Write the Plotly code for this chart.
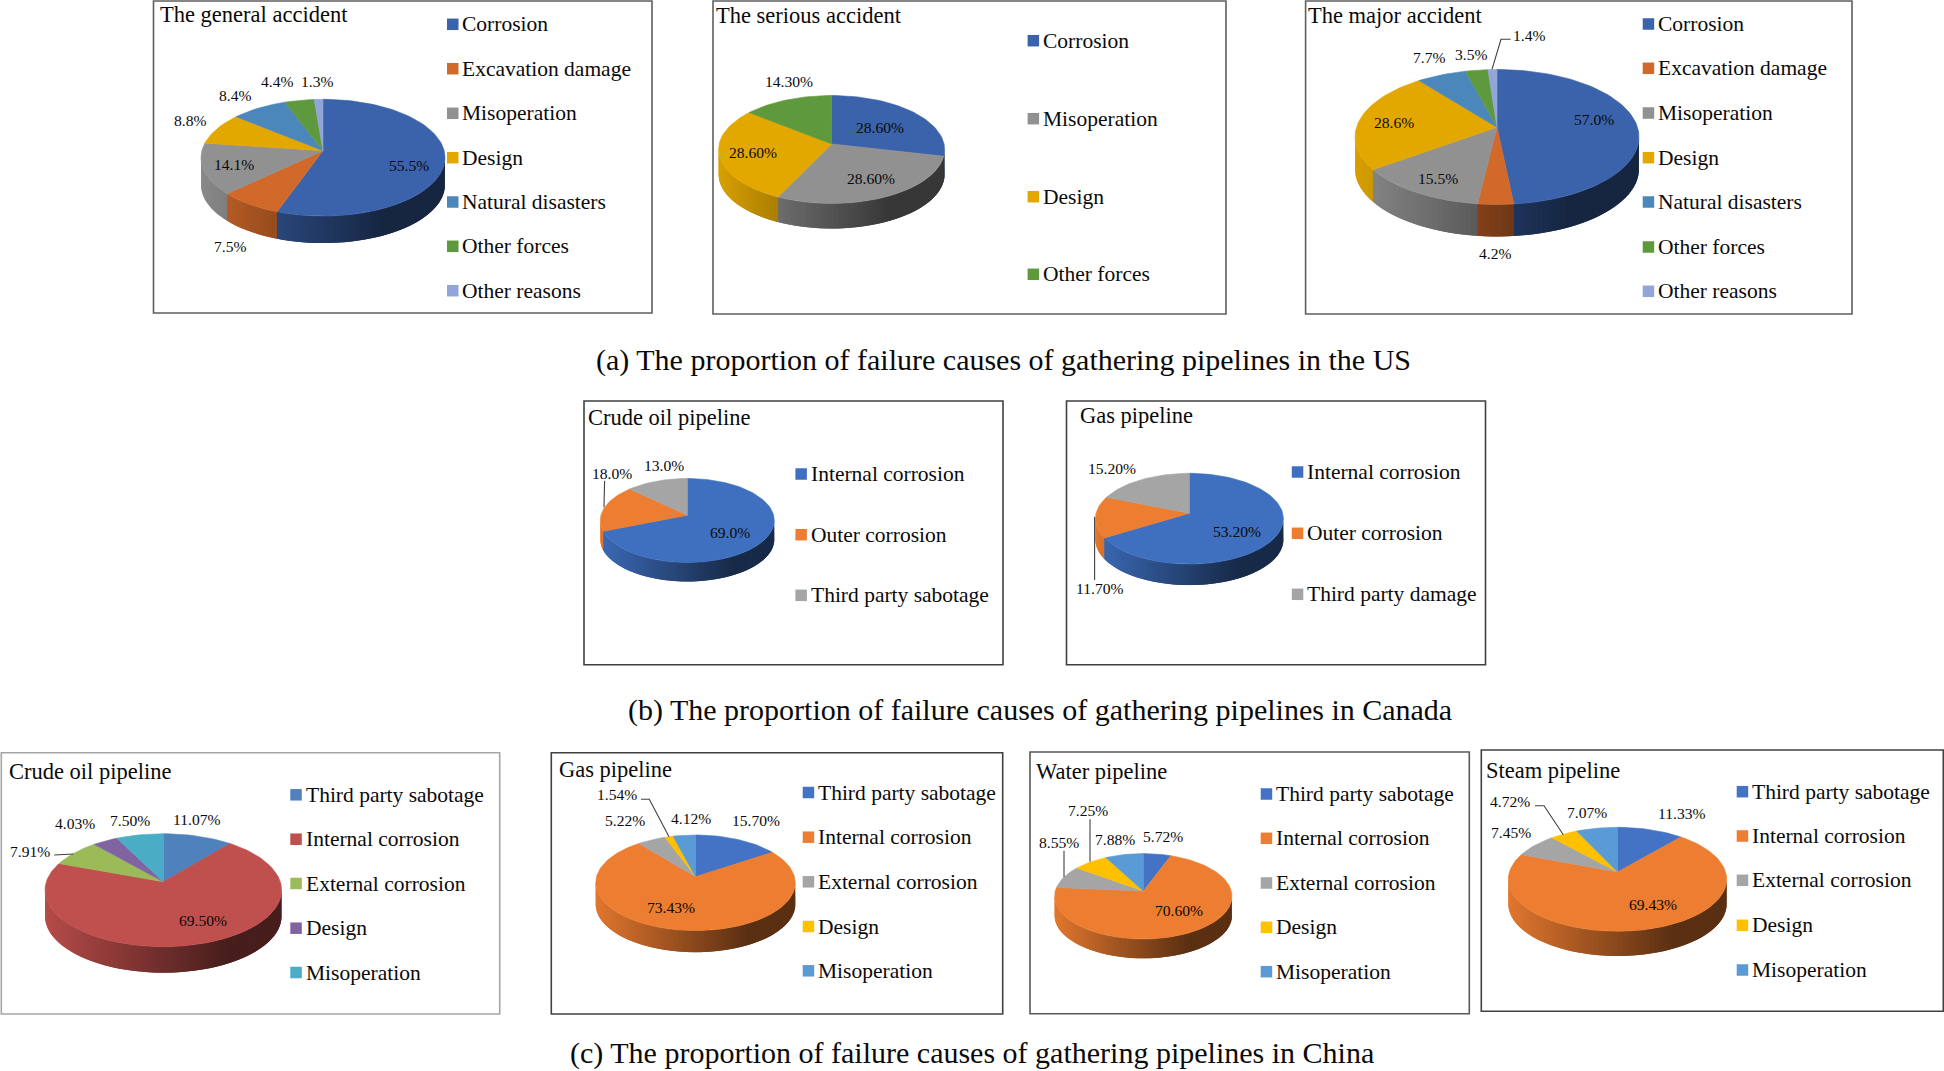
import math
import plotly.graph_objects as go

# ---------- data ----------
causes_us = ["Corrosion", "Excavation damage", "Misoperation", "Design",
             "Natural disasters", "Other forces", "Other reasons"]
causes_us_serious = ["Corrosion", "Misoperation", "Design", "Other forces"]
causes_ca_oil = ["Internal corrosion", "Outer corrosion", "Third party sabotage"]
causes_ca_gas = ["Internal corrosion", "Outer corrosion", "Third party damage"]
causes_cn = ["Third party sabotage", "Internal corrosion", "External corrosion",
             "Design", "Misoperation"]

us_general = [55.5, 7.5, 14.1, 8.8, 8.4, 4.4, 1.3]
us_serious = [28.60, 28.60, 28.60, 14.30]
us_major = [57.0, 4.2, 15.5, 28.6, 7.7, 3.5, 1.4]
ca_oil = [69.0, 18.0, 13.0]
ca_gas = [53.20, 11.70, 15.20]
cn_oil = [11.07, 69.50, 7.91, 4.03, 7.50]
cn_gas = [15.70, 73.43, 5.22, 1.54, 4.12]
cn_water = [5.72, 70.60, 8.55, 7.25, 7.88]
cn_steam = [11.33, 69.43, 7.45, 4.72, 7.07]

captions = ["(a) The proportion of failure causes of gathering pipelines in the US",
            "(b) The proportion of failure causes of gathering pipelines in Canada",
            "(c) The proportion of failure causes of gathering pipelines in China"]

# ---------- styles ----------
US = ["#3A63AB", "#D1692A", "#919191", "#E3A800", "#4C87BC", "#5F993E", "#92A5D9"]
US_S = ["#3A63AB", "#919191", "#E3A800", "#5F993E"]
CA = ["#3F70C0", "#ED7D31", "#A5A5A5"]
CN07 = ["#4F81BD", "#C0504D", "#9BBB59", "#8064A2", "#4BACC6"]
CN13 = ["#4472C4", "#ED7D31", "#A5A5A5", "#FFC000", "#5B9BD5"]
FONT = "Liberation Serif, Times New Roman, serif"

# ---------- panel layout (pixels in the 1944x1071 page) ----------
panels = [
    dict(title="The general accident", vals=us_general, dec=1, names=causes_us, cols=US,
         box=(153.5, 1, 652, 313), box_col="#5f5f5f", title_xy=(158, 14.7),
         pie=(323, 157.7, 122, 58.4, 150.7, 27),
         lab=[(409.3, 165.3), (230, 246), (234.3, 164), (190, 120.3), (235, 95), (276.7, 81.7), (317.3, 81.7)],
         leg_x=447, leg_y=[24.3, 68.7, 113.3, 157.7, 202, 246.3, 290.7], lead=[]),
    dict(title="The serious accident", vals=us_serious, dec=2, names=causes_us_serious, cols=US_S,
         box=(713, 1, 1226, 314), box_col="#5f5f5f", title_xy=(714, 15.7),
         pie=(831.6, 149.5, 113, 54, 144, 25),
         lab=[(880, 127), (870.7, 178.7), (753.4, 152.7), (789, 81.7)],
         leg_x=1027.6, leg_y=[40.7, 118.7, 196.7, 274.3], lead=[]),
    dict(title="The major accident", vals=us_major, dec=1, names=causes_us, cols=US,
         box=(1305.6, 1, 1852, 314), box_col="#5f5f5f", title_xy=(1305.5, 15.7),
         pie=(1497, 137, 142, 67.5, 127.3, 32),
         lab=[(1593.6, 119.3), (1494.7, 253), (1438, 178.7), (1394, 122), (1429, 57.7), (1470.7, 54.7), (1529, 35.7)],
         leg_x=1642.7, leg_y=[24, 68.3, 113, 157.7, 202, 247, 291.3],
         lead=[[(1492, 69.3), (1501, 39.3), (1510.7, 39.3)]]),
    dict(title="Crude oil pipeline", vals=ca_oil, dec=1, names=causes_ca_oil, cols=CA,
         box=(584, 401, 1003, 664.7), box_col="#404040", title_xy=(586, 417.3),
         pie=(687.3, 520.5, 87, 42, 515.2, 19),
         lab=[(729.6, 532.3), (612.3, 473), (664, 465)],
         leg_x=795.4, leg_y=[474, 534.7, 595.3],
         lead=[[(604.6, 480.7), (604, 507.3)]]),
    dict(title="Gas pipeline", vals=ca_gas, dec=2, names=causes_ca_gas, cols=CA,
         box=(1066.5, 401, 1485.5, 664.7), box_col="#404040", title_xy=(1077.5, 415.5),
         pie=(1189.4, 518.7, 94, 45.4, 513.3, 21),
         lab=[(1237.3, 531), (1100, 588.7), (1112, 468)],
         leg_x=1291.8, leg_y=[472, 533.3, 594.3],
         lead=[[(1094.6, 516.7), (1094.6, 580)]]),
    dict(title="Crude oil pipeline", vals=cn_oil, dec=2, names=causes_cn, cols=CN07,
         box=(1.3, 752.7, 499.7, 1014), box_col="#a6a6a6", title_xy=(7, 771.3),
         pie=(163.3, 890.2, 118.3, 56.5, 881.7, 26),
         lab=[(196.7, 819), (202.7, 920), (30, 851), (75, 823.3), (130, 820)],
         leg_x=290.3, leg_y=[794.8, 839.2, 883.5, 928.2, 972.5],
         lead=[[(54.3, 855), (73.3, 854)]]),
    dict(title="Gas pipeline", vals=cn_gas, dec=2, names=causes_cn, cols=CN13,
         box=(551.3, 752.7, 1002.7, 1014), box_col="#404040", title_xy=(556.5, 769.3),
         pie=(695.5, 882.8, 99.8, 47.8, 876.7, 21.6),
         lab=[(756, 820.3), (670.7, 907.7), (624.7, 820.3), (617, 794.7), (690.7, 818.7)],
         leg_x=802.7, leg_y=[792.5, 837.2, 881.8, 926.5, 970.8],
         lead=[[(641, 799.3), (649.3, 799.3), (669, 836.7)]]),
    dict(title="Water pipeline", vals=cn_water, dec=2, names=causes_cn, cols=CN13,
         box=(1030, 752, 1469.3, 1013.7), box_col="#595959", title_xy=(1033.5, 771.3),
         pie=(1143.3, 896.3, 88.7, 42.7, 891, 19.3),
         lab=[(1163.3, 836.7), (1178.7, 910), (1058.7, 842.3), (1087.7, 810.3), (1115, 839)],
         leg_x=1260.7, leg_y=[794, 838.3, 883, 927.3, 971.7],
         lead=[[(1064, 850.7), (1064, 877.3)], [(1090, 819.3), (1090, 861.7)]]),
    dict(title="Steam pipeline", vals=cn_steam, dec=2, names=causes_cn, cols=CN13,
         box=(1481.3, 750, 1943.3, 1011.3), box_col="#404040", title_xy=(1483.5, 770.7),
         pie=(1617.5, 879.3, 109.2, 52, 872, 24.7),
         lab=[(1682, 813), (1652.7, 904.7), (1510.7, 832), (1510.3, 801.7), (1587.3, 812.7)],
         leg_x=1736.7, leg_y=[791.7, 836, 880.3, 925.3, 970],
         lead=[[(1535, 805.7), (1544, 805.7), (1563.3, 834.7)]]),
]
caption_pos = [(1003, 359.5), (1040, 709.5), (972, 1053)]

LEG_SIZE = 11.5
LEG_FS = 21.5
TITLE_FS = 22.5
LAB_FS = 15.6
CAP_FS = 30
DEPTH_STEP = 2.5


def shade(hex_col, f):
    r, g, b = (int(hex_col[i:i + 2], 16) for i in (1, 3, 5))
    return f"rgb({int(r * f)},{int(g * f)},{int(b * f)})"


def rim_angle(theta, e):
    """Perspective: rays leave the apex (0, e) of the unit circle; return rim angle in degrees."""
    dx, dy = math.sin(theta), -math.cos(theta)
    b = e * dy
    t = -b + math.sqrt(b * b - (e * e - 1))
    x, y = dx * t, e + dy * t
    return math.degrees(math.atan2(x, -y)) % 360


fig = go.Figure()


def poly(xs, ys, color, width=0.6):
    fig.add_trace(go.Scatter(x=xs, y=ys, mode="lines", fill="toself", fillcolor=color,
                             line=dict(color=color, width=width), hoverinfo="skip",
                             showlegend=False))


annotations = []


def text(x, y, s, size, anchor="left"):
    annotations.append(dict(x=x, y=y, xref="x", yref="y", text=s, showarrow=False,
                            xanchor=anchor, yanchor="middle", align=anchor,
                            font=dict(family=FONT, size=size, color="#0a0a0a")))


shapes = []
for p in panels:
    x0, y0, x1, y1 = p["box"]
    shapes.append(dict(type="rect", xref="x", yref="y", x0=x0, y0=y0, x1=x1, y1=y1,
                       line=dict(color=p["box_col"], width=1.6), fillcolor="rgba(0,0,0,0)",
                       layer="below"))
    text(p["title_xy"][0], p["title_xy"][1], p["title"], TITLE_FS)

    cx, cy, rx, ry, ay, depth = p["pie"]
    e = (ay - cy) / ry
    total = sum(p["vals"])

    def rim(phi_deg):
        a = math.radians(phi_deg)
        return cx + rx * math.sin(a), cy - ry * math.cos(a)

    # slice limits on the rim
    limits = []
    acc = 0.0
    for v in p["vals"]:
        a0 = rim_angle(2 * math.pi * acc / total, e)
        acc += v
        a1 = rim_angle(2 * math.pi * acc / total, e) if acc < total else 360.0
        if a1 <= a0:
            a1 += 360.0
        limits.append((a0, a1))

    # side wall: thin shaded strips painted in rising angle; each one reaches under
    # the strip painted after it, so no seams show.
    for (a0, a1), col in zip(limits, p["cols"]):
        lo, hi = max(a0, 90.0), min(a1, 270.0)
        if hi <= lo:
            continue
        n = max(1, int(math.ceil((hi - lo) / DEPTH_STEP)))
        step = (hi - lo) / n
        for k in range(n):
            b0 = lo + step * k
            b1 = min(270.0, b0 + 2 * step)
            b_mid = b0 + step / 2
            arc = [rim(b0 + (b1 - b0) * j / 3) for j in range(4)]
            xs = [q[0] for q in arc] + [q[0] for q in reversed(arc)]
            ys = [q[1] for q in arc] + [q[1] + depth for q in reversed(arc)]
            xs.append(xs[0])
            ys.append(ys[0])
            t = (rim(b_mid)[0] - (cx - rx)) / (2 * rx)
            f = max(0.38, 0.95 - 0.75 * t)
            poly(xs, ys, shade(col, f), width=0)

    # top face
    for (a0, a1), col in zip(limits, p["cols"]):
        n = max(2, int((a1 - a0) / 2))
        pts = [rim(a0 + (a1 - a0) * k / n) for k in range(n + 1)]
        poly([cx] + [q[0] for q in pts] + [cx], [ay] + [q[1] for q in pts] + [ay], col)

    # data labels
    for v, (lx, ly) in zip(p["vals"], p["lab"]):
        text(lx, ly, f"{v:.{p['dec']}f}%", LAB_FS, "center")

    # leader lines
    for seg in p["lead"]:
        fig.add_trace(go.Scatter(x=[q[0] for q in seg], y=[q[1] for q in seg], mode="lines",
                                 line=dict(color="#404040", width=1.1), hoverinfo="skip",
                                 showlegend=False))

    # legend
    fig.add_trace(go.Scatter(x=[p["leg_x"] + LEG_SIZE / 2] * len(p["names"]), y=p["leg_y"],
                             mode="markers",
                             marker=dict(symbol="square", size=LEG_SIZE, color=p["cols"],
                                         line=dict(width=0)),
                             hoverinfo="skip", showlegend=False))
    for nm, ly in zip(p["names"], p["leg_y"]):
        text(p["leg_x"] + 13.3, ly, nm, LEG_FS)

for s, (cxp, cyp) in zip(captions, caption_pos):
    text(cxp, cyp, s, CAP_FS, "center")

fig.update_layout(
    width=1944, height=1071, margin=dict(l=0, r=0, t=0, b=0),
    paper_bgcolor="white", plot_bgcolor="white", showlegend=False,
    xaxis=dict(range=[0, 1944], visible=False, fixedrange=True),
    yaxis=dict(range=[1071, 0], visible=False, fixedrange=True),
    shapes=shapes, annotations=annotations,
)
fig.write_html("out.html", config=dict(displayModeBar=False),
               post_script="document.body.style.margin='0';document.body.style.overflow='hidden';")
